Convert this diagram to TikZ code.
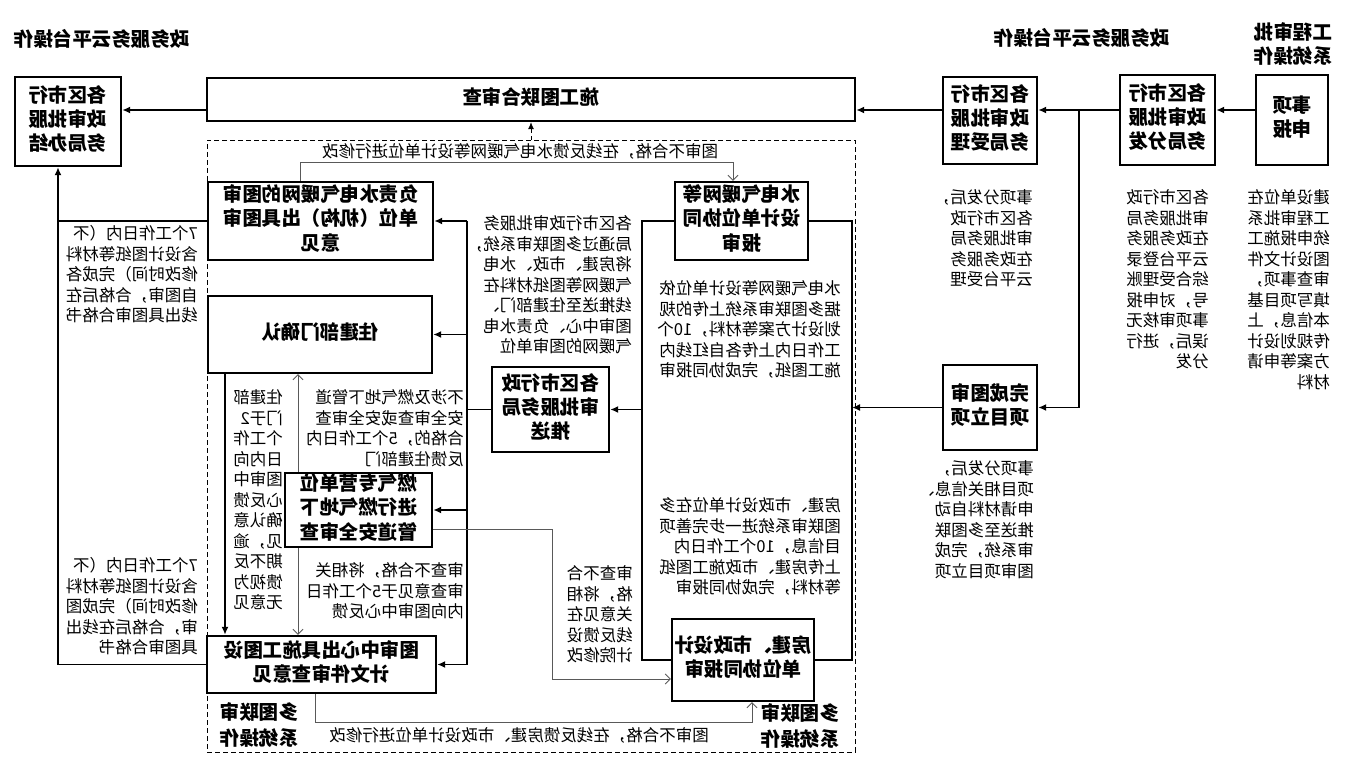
\documentclass[tikz,border=0pt]{standalone}
\usepackage{fontspec}
\setmainfont{Noto Sans CJK SC}
\usepackage{graphicx}
\usetikzlibrary{arrows.meta}
\newcommand{\mir}[2][c]{\reflectbox{\begin{tabular}{@{}#1@{}}#2\end{tabular}}}
\newcommand{\boxfont}{\fontsize{19.5}{24}\selectfont\bfseries}
\newcommand{\headfont}{\fontsize{19.5}{26}\selectfont\bfseries}
\newcommand{\notefont}{\fontsize{16.5}{20.5}\selectfont}
\tikzset{
  box/.style={draw, line width=2.4pt, inner sep=0pt, fill=white, font=\boxfont},
  note/.style={inner sep=0pt, anchor=north east, font=\notefont},
  head/.style={inner sep=0pt, font=\headfont},
  flow/.style={line width=1.8pt, -{Latex[length=8pt,width=7pt]}},
  link/.style={line width=1.8pt},
  back/.style={line width=0.9pt, black!65, -{Straight Barb[length=5pt,width=10pt]}},
}
\begin{document}
\begin{tikzpicture}[x=1pt, y=-1pt]
\useasboundingbox (0,0) rectangle (1354,759);
\node[draw, line width=0.8pt, dash pattern=on 5pt off 3pt, minimum width=648pt, minimum height=612pt] (zone) at (531,446) {};

\node[box, minimum width=106pt, minimum height=89pt] (b1) at (68,121.5) {\mir{各区市行\\政审批服\\务局办结}};
\node[box, minimum width=648pt, minimum height=43pt] (b2) at (531,99.5) {\mir{施工图联合审查}};
\node[box, minimum width=94pt, minimum height=87pt] (b3) at (990,120.5) {\mir{各区市行\\政审批服\\务局受理}};
\node[box, minimum width=95pt, minimum height=90pt] (b4) at (1167.5,120) {\mir{各区市行\\政审批服\\务局分发}};
\node[box, minimum width=72pt, minimum height=90pt] (b5) at (1292,120) {\mir{事项\\申报}};
\node[box, minimum width=94pt, minimum height=85pt] (b6) at (990,407.5) {\mir{完成图审\\项目立项}};
\node[box, minimum width=133pt, minimum height=78pt] (b7) at (741.5,221) {\mir{水电气暖网等\\设计单位协同\\报审}};
\node[box, minimum width=225pt, minimum height=78pt] (b8) at (320.5,221) {\mir{负责水电气暖网的图审\\单位（机构）出具图审\\意见}};
\node[box, minimum width=224pt, minimum height=77pt] (b9) at (320,334.5) {\mir{住建部门确认}};
\node[box, minimum width=117pt, minimum height=85pt] (b10) at (550.5,409.5) {\mir{各区市行政\\审批服务局\\推送}};
\node[box, minimum width=147pt, minimum height=74pt] (b11) at (358.5,510) {\mir{燃气专营单位\\进行燃气地下\\管道安全审查}};
\node[box, minimum width=229pt, minimum height=57pt] (b12) at (321.5,664.5) {\mir{图审中心出具施工图设\\计文件审查意见}};
\node[box, minimum width=142pt, minimum height=82pt] (b13) at (743,660) {\mir{房建、市政设计\\单位协同报审}};

\node[head] (h1) at (102,41) {\mir{政务服务云平台操作}};
\node[head] (h2) at (1082,40) {\mir{政务服务云平台操作}};
\node[head, font=\boxfont] (h3) at (1293,47) {\mir{工程审批\\系统操作}};
\node[head] (h4) at (259,727) {\mir{多图联审\\系统操作}};
\node[head] (h5) at (800,728) {\mir{多图联审\\系统操作}};

\node[note] (r1) at (1330,189) {\mir[l]{建设单位在\\工程审批系\\统申报施工\\图设计文件\\审查事项，\\填写项目基\\本信息，上\\传规划设计\\方案等申请\\材料}};
\node[note] (r2) at (1209,189) {\mir[l]{各区市行政\\审批服务局\\在政务服务\\云平台登录\\综合受理账\\号，对申报\\事项审核无\\误后，进行\\分发}};
\node[note] (r3) at (1033,189) {\mir[l]{事项分发后，\\各区市行政\\审批服务局\\在政务服务\\云平台受理}};
\node[note] (r4) at (1034,460) {\mir[l]{事项分发后，\\项目相关信息、\\申请材料自动\\推送至多图联\\审系统，完成\\图审项目立项}};
\node[note] (a1) at (198,225) {\mir[l]{7个工作日内（不\\含设计图纸等材料\\修改时间）完成各\\自图审，合格后在\\线出具图审合格书}};
\node[note] (a2) at (198,557) {\mir[l]{7个工作日内（不\\含设计图纸等材料\\修改时间）完成图\\审，合格后在线出\\具图审合格书}};
\node[note] (i1) at (841,280) {\mir[l]{水电气暖网等设计单位依\\据多图联审系统上传的规\\划设计方案等材料，10个\\工作日内上传各自红线内\\施工图纸，完成协同报审}};
\node[note] (i2) at (841,497) {\mir[l]{房建、市政设计单位在多\\图联审系统进一步完善项\\目信息，10个工作日内\\上传房建、市政施工图纸\\等材料，完成协同报审}};
\node[note] (i3) at (632,215) {\mir[l]{各区市行政审批服务\\局通过多图联审系统，\\将房建、市政、水电\\气暖网等图纸材料在\\线推送至住建部门、\\图审中心、负责水电\\气暖网的图审单位}};
\node[note] (i4) at (464,389) {\mir[l]{不涉及燃气地下管道\\安全审查或安全审查\\合格的，5个工作日内\\反馈住建部门}};
\node[note] (i5) at (283,389) {\mir[l]{住建部\\门于2\\个工作\\日内向\\图审中\\心反馈\\确认意\\见，逾\\期不反\\馈视为\\无意见}};
\node[note] (i6) at (464,562) {\mir[l]{审查不合格，将相关\\审查意见于5个工作日\\内向图审中心反馈}};
\node[note] (i7) at (633,565) {\mir[l]{审查不合\\格，将相\\关意见在\\线反馈设\\计院修改}};
\node[note, anchor=south] (l1) at (520,164) {\mir{图审不合格，在线反馈水电气暖网等设计单位进行修改}};
\node[note, anchor=north] (l2) at (519,727) {\mir{图审不合格，在线反馈房建、市政设计单位进行修改}};

\coordinate (j1) at (1079,110);
\draw[flow] (b5.west |- j1) -- (b4.east |- j1);
\draw[flow] (b4.west |- j1) -- (b3.east |- j1);
\draw[flow] (b3.west |- j1) -- (b2.east |- j1);
\draw[flow] (b2.west |- j1) -- (b1.east |- j1);
\draw[flow] (j1) |- (b6.east);
\draw[line width=0.8pt, dash pattern=on 4pt off 3pt, -{Latex[length=7pt,width=6pt]}] (zone.north) -- (b2.south);

\coordinate (xr) at (852,0);
\draw[link] (b7.east) -| (xr |- b13.east) -- (b13.east);
\draw[flow] (b6.west) -- (b6.west -| xr);
\coordinate (xl) at (642,0);
\draw[link] (b7.west) -| (xl |- b13.west) -- (b13.west);
\draw[flow] (xl |- b10.east) -- (b10.east);
\coordinate (xm) at (467,0);
\draw[link] (b10.west) -- (b10.west -| xm);
\draw[link] (xm |- b8.east) -- (xm |- b12.east);
\foreach \n in {b8,b9,b11,b12}
  \draw[flow] (xm |- \n.east) -- (\n.east);
\coordinate (xo) at (58,0);
\draw[link] (b8.west) -- (b8.west -| xo);
\draw[flow] (b12.west) -| (xo |- b1.south);
\coordinate (xd) at (225,0);
\draw[flow] (xd |- b9.south) -- (xd |- b12.north);

\coordinate (xg) at (298,0);
\draw[back] (xg |- b11.north) -- (xg |- b9.south);
\draw[back] (xg |- b11.south) -- (xg |- b12.north);
\coordinate (g1) at (552,529);
\coordinate (g2) at (552,679);
\draw[back] (b11.east |- g1) -- (g1) -- (g2) -- (g2 -| b13.west);
\coordinate (t1) at (300,162);
\coordinate (t2) at (733,162);
\draw[back] (t1 |- b8.north) -- (t1) -- (t2) -- (t2 |- b7.north);
\coordinate (u1) at (315,722);
\coordinate (u2) at (752,722);
\draw[back] (u1 |- b12.south) -- (u1) -- (u2) -- (u2 |- b13.south);
\end{tikzpicture}
\end{document}
